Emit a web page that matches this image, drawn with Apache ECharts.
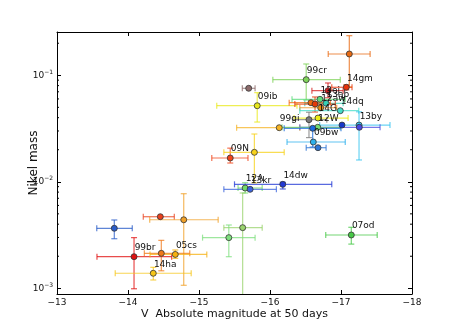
<!DOCTYPE html>
<html>
<head>
<meta charset="utf-8">
<script src="https://cdn.jsdelivr.net/npm/echarts@6.0.0/dist/echarts.min.js"></script>
<style>
html, body { margin: 0; padding: 0; background: #fff; }
#main { width: 458px; height: 327px; }
</style>
</head>
<body>
<div id="main"></div>
<script>
// supernova labels (empty = no label)
var names = ['99cr', '', '09ib', '99gi', '09N', '', '12A', '13kr', '14dw', '', '',
    '', '', '', '99br', '', '05cs', '14ha', '07od', '14gm', '',
    '', '13ej', '13ab', '', '', '12aw', '14dq', '13by', '', '',
    '14G', '', '12W', '', '09bw', ''];
// V absolute magnitude at 50 days
var mags = [-16.51, -15.70, -15.82, -16.13, -15.44, -15.78, -15.65, -15.72, -16.18, -15.615, -15.42,
    -13.807, -14.455, -14.785, -14.085, -14.469, -14.666, -14.356, -17.145, -17.075, -17.117,
    -16.817, -16.704, -16.789, -16.577, -16.634, -16.714, -16.99, -17.254, -17.258, -17.014,
    -16.676, -16.549, -16.672, -16.601, -16.61, -16.676];
var magLo = [-16.04, -15.61, -15.25, -15.53, -15.18, -15.35, -15.55, -15.35, -15.50, -15.35, -15.05,
    -13.56, -14.215, -14.306, -13.563, -14.23, -14.31, -13.82, -16.785, -16.87, -16.82,
    -16.59, -16.31, -16.49, -16.27, -16.35, -16.42, -16.42, -16.70, -16.42, -17.014,
    -16.34, -16.32, -16.17, -16.20, -16.24, -16.51];
var magHi = [-16.99, -15.79, -16.38, -16.42, -15.69, -16.20, -15.89, -16.09, -16.87, -15.89, -15.79,
    -14.06, -14.652, -15.27, -14.615, -14.87, -15.11, -14.89, -17.51, -17.155, -17.41,
    -17.03, -17.06, -17.03, -16.85, -16.92, -16.94, -17.25, -17.69, -17.55, -17.014,
    -17.10, -16.80, -16.99, -17.00, -17.06, -16.79];
// nickel mass
var masses = [0.091, 0.0755, 0.0518, 0.0322, 0.01673, 0.01892, 0.00874, 0.0085, 0.00947, 0.00371, 0.00299,
    0.00366, 0.0047, 0.0044, 0.00198, 0.00213, 0.00208, 0.001384, 0.003166, 0.0772, 0.1585,
    0.0717, 0.0595, 0.0546, 0.0553, 0.0537, 0.0496, 0.0465, 0.0341, 0.0325, 0.0341,
    0.0397, 0.0383, 0.0325, 0.0318, 0.02364, 0.0209];
var massLo = [0.0586, 0.0755, 0.0364, 0.0322, 0.01501, 0.00975, 0.00785, 0.0085, 0.00856, 0.0005, 0.00198,
    0.00292, 0.0047, 0.001067, 0.00099, 0.00146, 0.00191, 0.001197, 0.0026, 0.0729, 0.0775,
    0.0615, 0.0595, 0.0546, 0.0553, 0.0452, 0.0496, 0.0465, 0.01603, 0.0325, 0.0341,
    0.0397, 0.026, 0.0325, 0.0212, 0.02364, 0.0209];
var massHi = [0.1277, 0.0755, 0.0687, 0.0322, 0.0207, 0.0281, 0.0098, 0.0085, 0.0099, 0.00785, 0.00393,
    0.00438, 0.0047, 0.00773, 0.00299, 0.00282, 0.00229, 0.001574, 0.00374, 0.0814, 0.2355,
    0.0847, 0.0595, 0.0546, 0.0553, 0.0626, 0.0496, 0.0465, 0.0454, 0.0325, 0.0341,
    0.0397, 0.045, 0.0325, 0.0318, 0.02364, 0.0209];
var colors = ['#7fd35a', '#8c6b6b', '#e8e81a', '#f5b324', '#f0451b', '#f7d21a', '#71d96b', '#3c64dc', '#2238d4', '#9ad36e', '#7edf7e',
    '#2a5cc8', '#e8401c', '#f0a028', '#e01010', '#f07818', '#f5b010', '#f5c518', '#46c846', '#e8320a', '#e86a12',
    '#d42020', '#5ddc7c', '#36cdb4', '#f06a10', '#e43808', '#e88a10', '#44dcc8', '#38c4f0', '#4848e0', '#1838c8',
    '#ecec14', '#7a7a7a', '#72dc72', '#1a6ce0', '#2cb0ec', '#2c74d4'];
var minorTicks = [0.002, 0.003, 0.004, 0.005, 0.006, 0.007, 0.008, 0.009,
    0.02, 0.03, 0.04, 0.05, 0.06, 0.07, 0.08, 0.09, 0.2];

var myChart = echarts.init(document.getElementById('main'));

var errData = mags.map(function (m, i) {
    return [m, masses[i], magLo[i], magHi[i], massLo[i], massHi[i]];
});
var pointData = mags.map(function (m, i) {
    return { value: [m, masses[i]], itemStyle: { color: colors[i] } };
});

function errItem(params, api) {
    var i = params.dataIndex;
    var y = api.value(1);
    var a = api.coord([api.value(2), y]);
    var b = api.coord([api.value(3), y]);
    var c = api.coord([api.value(0), api.value(4)]);
    var d = api.coord([api.value(0), api.value(5)]);
    var st = { stroke: colors[i], lineWidth: 1.2, opacity: 0.75 };
    var kids = [];
    function ln(x1, y1, x2, y2) {
        kids.push({ type: 'line', shape: { x1: x1, y1: y1, x2: x2, y2: y2 }, style: st });
    }
    if (Math.abs(b[0] - a[0]) > 1) {
        ln(a[0], a[1], b[0], b[1]);
        ln(a[0], a[1] - 3, a[0], a[1] + 3);
        ln(b[0], b[1] - 3, b[0], b[1] + 3);
    }
    if (Math.abs(d[1] - c[1]) > 1) {
        ln(c[0], c[1], d[0], d[1]);
        ln(c[0] - 3, c[1], c[0] + 3, c[1]);
        ln(d[0] - 3, d[1], d[0] + 3, d[1]);
    }
    return { type: 'group', children: kids };
}

// small log ticks on left and right frame
function minorItem(params, api) {
    var p = api.coord([-13, api.value(1)]);
    var cs = params.coordSys;
    var st = { stroke: '#000', lineWidth: 1 };
    return {
        type: 'group', children: [
            { type: 'line', shape: { x1: cs.x, y1: p[1], x2: cs.x + 2, y2: p[1] }, style: st },
            { type: 'line', shape: { x1: cs.x + cs.width - 2, y1: p[1], x2: cs.x + cs.width, y2: p[1] }, style: st }
        ]
    };
}

function isDecade(v) {
    var e = Math.log10(v);
    return Math.abs(e - Math.round(e)) < 0.01;
}

var frameLine = { show: true, lineStyle: { color: '#000', width: 1 } };
var tickIn = { show: true, inside: true, length: 4, lineStyle: { color: '#000' } };

var option = {
    backgroundColor: '#fff',
    animation: false,
    textStyle: { fontFamily: 'DejaVu Sans' },
    grid: { left: 57, right: 46, top: 32, bottom: 33 },
    xAxis: [{
        type: 'value', min: -18, max: -13, interval: 1, inverse: true,
        axisLine: frameLine, axisTick: tickIn, splitLine: { show: false },
        axisLabel: {
            fontSize: 9, color: '#111', margin: 4,
            formatter: function (v) { return String(v).replace('-', '\u2212'); }
        },
        name: 'V  Absolute magnitude at 50 days', nameLocation: 'middle', nameGap: 15,
        nameMoveOverlap: false,
        nameTextStyle: { fontSize: 11, color: '#111' }
    }, {
        type: 'value', min: -18, max: -13, interval: 1, inverse: true, position: 'top',
        axisLine: frameLine, axisTick: tickIn, splitLine: { show: false },
        axisLabel: { show: false }
    }],
    yAxis: [{
        type: 'log', logBase: 10, min: 0.000884, max: 0.255,
        axisLine: frameLine, axisTick: tickIn, splitLine: { show: false },
        axisLabel: {
            margin: 4,
            formatter: function (v) {
                if (!isDecade(v)) return '';
                var e = Math.round(Math.log10(v));
                return '{b|10}{s|\u2212' + (-e) + '}';
            },
            rich: {
                b: { fontSize: 9, color: '#111', fontFamily: 'DejaVu Sans' },
                s: { fontSize: 6, color: '#111', fontFamily: 'DejaVu Sans', padding: [0, 0, 6, 0] }
            }
        },
        name: 'Nikel mass', nameLocation: 'middle', nameGap: 17,
        nameMoveOverlap: false,
        nameTextStyle: { fontSize: 12, color: '#111' }
    }, {
        type: 'log', logBase: 10, min: 0.000884, max: 0.255, position: 'right',
        axisLine: frameLine, axisTick: tickIn, splitLine: { show: false },
        axisLabel: { show: false }
    }],
    series: [{
        type: 'custom',
        renderItem: minorItem,
        data: minorTicks.map(function (v) { return [-13, v]; }),
        encode: { x: 0, y: 1 },
        clip: false,
        z: 1
    }, {
        type: 'custom',
        renderItem: errItem,
        data: errData,
        encode: { x: 0, y: 1 },
        clip: true,
        z: 2
    }, {
        type: 'scatter',
        data: pointData,
        symbol: 'circle',
        symbolSize: 6,
        itemStyle: { borderColor: '#333', borderWidth: 0.8, opacity: 1 },
        label: {
            show: true,
            position: [4, -10],
            align: 'left',
            verticalAlign: 'top',
            fontSize: 9,
            color: '#111',
            formatter: function (p) { return names[p.dataIndex]; }
        },
        labelLayout: { hideOverlap: false },
        z: 3
    }]
};

myChart.setOption(option);
</script>
</body>
</html>
